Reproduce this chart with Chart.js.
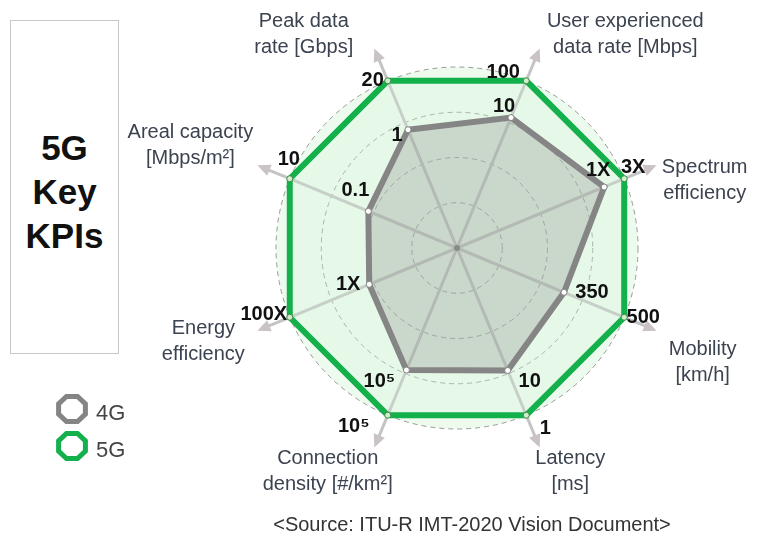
<!DOCTYPE html>
<html>
<head>
<meta charset="utf-8">
<script src="https://cdn.jsdelivr.net/npm/chart.js@4.4.1/dist/chart.umd.min.js"></script>
<style>
    html, body { margin: 0; padding: 0; background: #fff; }
    #wrap { position: relative; width: 759px; height: 537px; overflow: hidden; font-family: "Liberation Sans", Arial, sans-serif; }
    #kpi-chart { position: absolute; left: 0; top: 0; }
    .title-box { position: absolute; left: 10px; top: 20px; width: 107px; height: 332px; border: 1px solid #c8c8c8; }
    .title-text { position: absolute; left: 10px; top: 126px; width: 109px; text-align: center; font-weight: bold; font-size: 35px; line-height: 44px; color: #111; }
    .source { position: absolute; left: 172px; top: 512px; width: 600px; text-align: center; font-size: 20px; line-height: 24px; color: #333; white-space: nowrap; }
</style>
</head>
<body>
<div id="wrap">
    <div class="title-box"></div>
    <div class="title-text">5G<br>Key<br>KPIs</div>
    <canvas id="kpi-chart" width="759" height="537"></canvas>
    <div class="source">&lt;Source: ITU-R IMT-2020 Vision Document&gt;</div>
</div>
<script>
// KPI-akser, med klokka fra "Peak data rate"
const categories = [
    ['Peak data', 'rate [Gbps]'],
    ['User experienced', 'data rate [Mbps]'],
    ['Spectrum', 'efficiency'],
    ['Mobility', '[km/h]'],
    ['Latency', '[ms]'],
    ['Connection', 'density [#/km²]'],
    ['Energy', 'efficiency'],
    ['Areal capacity', '[Mbps/m²]']
];

// Normalisert avstand fra sentrum (ytterste ring = 4)
const values4G = [2.83, 3.12, 3.52, 2.56, 2.93, 2.92, 2.10, 2.12];
const values5G = [4, 4, 4, 4, 4, 4, 4, 4];

// Verdiene som står skrevet ved hvert punkt
const labels4G = ['1', '10', '1X', '350', '10', '10⁵', '1X', '0.1'];
const labels5G = ['20', '100', '3X', '500', '1', '10⁵', '100X', '10'];

const seriesNames = ['4G', '5G'];

const GREY = '#858585';
const GREEN = '#14b04c';
const FONT = '"Liberation Sans", Arial, sans-serif';

// Forskyvning av tekst i forhold til punkt / pilspiss
const axisLabelOffset = [[-71, -28], [86, -28], [49, 2], [47, 19], [31, 12], [-47, 12], [-55, -2], [-68, -33]];
const label4GOffset = [[-11, 6], [-7, -11], [-6, -17], [28, 0], [22, 11], [-27, 11], [-21, 0], [-13, -21]];
const label5GOffset = [[-15, 0], [-23, -8], [9, -11], [19, 0], [19, 13], [-34, 11], [-26, -3], [-1, -19]];

const kpiDecor = {
    id: 'kpiDecor',
    beforeDatasetsDraw(chart) {
        const r = chart.scales.r;
        const ctx = chart.ctx;
        ctx.save();
        // Piler ut fra hver akse
        categories.forEach((c, i) => {
            const a = r.getPointPosition(i, r.drawingArea);
            const b = r.getPointPosition(i, r.drawingArea + 24);
            const tip = r.getPointPosition(i, r.drawingArea + 35);
            ctx.strokeStyle = '#c4c4c4';
            ctx.lineWidth = 3;
            ctx.beginPath();
            ctx.moveTo(a.x, a.y);
            ctx.lineTo(b.x, b.y);
            ctx.stroke();
            const ang = tip.angle;
            const nx = -Math.sin(ang), ny = Math.cos(ang);
            ctx.fillStyle = '#c9c3c6';
            ctx.beginPath();
            ctx.moveTo(tip.x, tip.y);
            ctx.lineTo(b.x - 2 * Math.cos(ang) + nx * 6, b.y - 2 * Math.sin(ang) + ny * 6);
            ctx.lineTo(b.x - 2 * Math.cos(ang) - nx * 6, b.y - 2 * Math.sin(ang) - ny * 6);
            ctx.closePath();
            ctx.fill();
        });
        // Sentrumspunkt
        ctx.fillStyle = '#666';
        ctx.beginPath();
        ctx.arc(r.xCenter, r.yCenter, 3, 0, Math.PI * 2);
        ctx.fill();
        ctx.restore();
    },
    afterDraw(chart) {
        const r = chart.scales.r;
        const ctx = chart.ctx;
        ctx.save();
        ctx.textAlign = 'center';
        ctx.textBaseline = 'middle';

        // Aksenavn
        ctx.font = '20px ' + FONT;
        ctx.fillStyle = '#3c4350';
        categories.forEach((lines, i) => {
            const tip = r.getPointPosition(i, r.drawingArea + 34);
            const [dx, dy] = axisLabelOffset[i];
            lines.forEach((line, k) => {
                ctx.fillText(line, tip.x + dx, tip.y + dy + k * 26);
            });
        });

        // Verdier ved punktene
        ctx.font = 'bold 20px ' + FONT;
        ctx.fillStyle = '#111';
        const drawValues = (values, labels, offsets) => {
            values.forEach((v, i) => {
                const p = r.getPointPosition(i, r.getDistanceFromCenterForValue(v));
                ctx.fillText(labels[i], p.x + offsets[i][0], p.y + offsets[i][1]);
            });
        };
        drawValues(values4G, labels4G, label4GOffset);
        drawValues(values5G, labels5G, label5GOffset);

        // Egen forklaring med åttekanter
        const colors = [GREY, GREEN];
        seriesNames.forEach((name, k) => {
            const cx = 72, cy = 409 + k * 37;
            ctx.strokeStyle = colors[k];
            ctx.lineWidth = 5;
            ctx.beginPath();
            for (let j = 0; j < 8; j++) {
                const a = Math.PI / 8 + j * Math.PI / 4;
                const x = cx + 14.5 * Math.cos(a), y = cy + 13.5 * Math.sin(a);
                if (j === 0) ctx.moveTo(x, y); else ctx.lineTo(x, y);
            }
            ctx.closePath();
            ctx.stroke();
            ctx.font = '22px ' + FONT;
            ctx.fillStyle = '#444';
            ctx.textAlign = 'left';
            ctx.fillText(name, 96, cy + 5);
        });
        ctx.restore();
    }
};

const ctx = document.getElementById('kpi-chart').getContext('2d');
new Chart(ctx, {
    type: 'radar',
    data: {
        labels: categories,
        datasets: [
            {
                label: seriesNames[0],
                data: values4G,
                borderColor: GREY,
                borderWidth: 6,
                backgroundColor: 'rgba(125, 125, 125, 0.27)',
                fill: true,
                pointRadius: 3,
                pointBackgroundColor: '#fff',
                pointBorderColor: GREY,
                pointBorderWidth: 1
            },
            {
                label: seriesNames[1],
                data: values5G,
                borderColor: GREEN,
                borderWidth: 6,
                backgroundColor: 'rgba(215, 245, 220, 0.3)',
                fill: true,
                pointRadius: 3,
                pointBackgroundColor: '#cfeecf',
                pointBorderColor: '#4a8a4a',
                pointBorderWidth: 1
            }
        ]
    },
    options: {
        responsive: false,
        animation: false,
        layout: {
            padding: { left: 276, right: 121, top: 67, bottom: 108 }
        },
        plugins: {
            legend: { display: false },
            tooltip: { enabled: false }
        },
        scales: {
            r: {
                min: 0,
                max: 4,
                startAngle: -22.5,
                backgroundColor: '#edfaee',
                ticks: { display: false, stepSize: 1 },
                grid: { circular: true, color: '#9a9a9a', lineWidth: 1 },
                border: { dash: [5, 4] },
                angleLines: { color: '#c0c0c0', lineWidth: 3 },
                pointLabels: { display: false }
            }
        }
    },
    plugins: [kpiDecor]
});
</script>
</body>
</html>
